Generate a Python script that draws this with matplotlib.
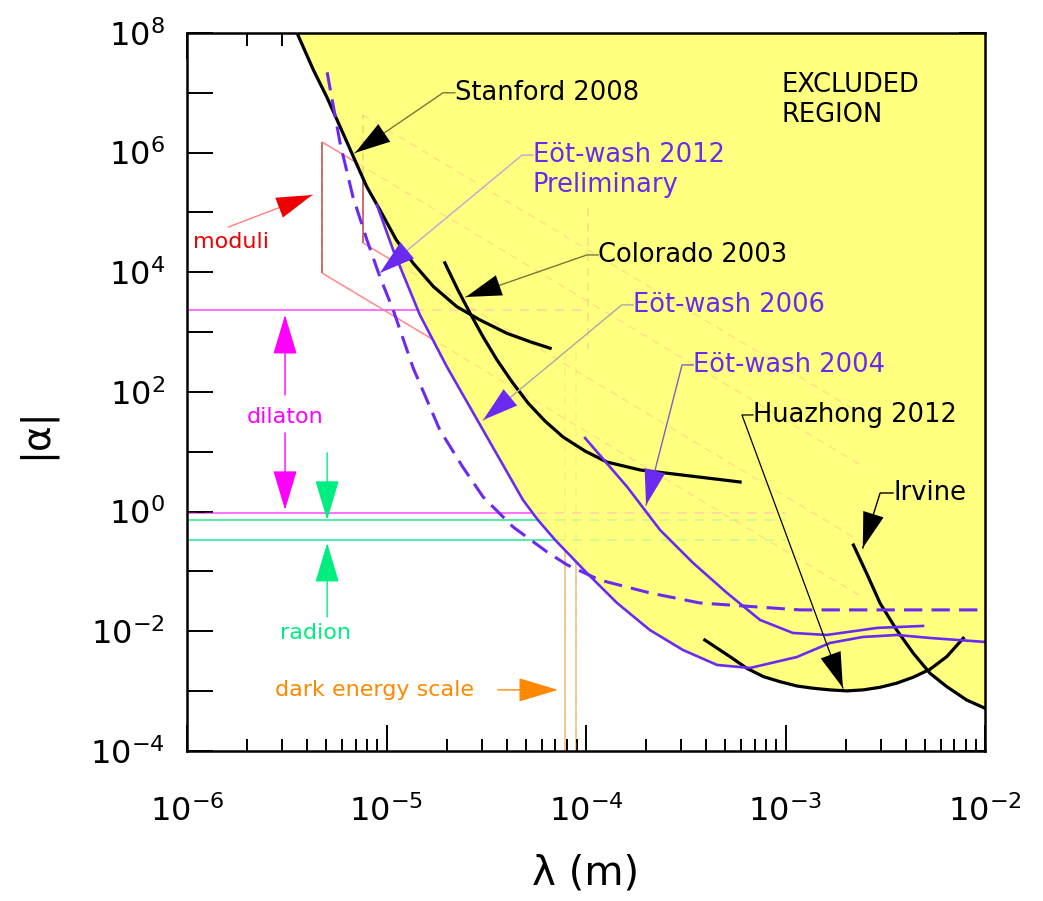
import numpy as np
import matplotlib.pyplot as plt
from matplotlib.ticker import LogLocator, FuncFormatter, NullLocator, NullFormatter

plt.rcParams['mathtext.fontset'] = 'dejavusans'

# limits on a Yukawa-type deviation: range lambda (m) vs strength |alpha|
stanford_lam = [3.56e-6, 4.30e-6, 5.01e-6, 5.85e-6, 6.82e-6, 7.96e-6, 9.27e-6, 1.12e-5,
                1.36e-5, 1.72e-5, 2.25e-5, 2.94e-5, 4.01e-5, 5.24e-5, 6.61e-5]
stanford_alpha = [1e8, 2.41e7, 8.63e6, 2.72e6, 8.57e5, 2.70e5, 1.10e5, 3.47e4,
                  1.42e4, 5.76e3, 2.67e3, 1.60e3, 958, 693, 538]

colorado_lam = [1.96e-5, 2.28e-5, 2.62e-5, 3.05e-5, 3.58e-5, 4.26e-5, 5.12e-5, 6.22e-5,
                7.67e-5, 9.89e-5, 1.27e-4, 1.87e-4, 3.32e-4, 5.92e-4]
colorado_alpha = [1.44e4, 5.07e3, 2.09e3, 832, 343, 147, 65.5, 32.8,
                  17.7, 10.3, 6.76, 4.97, 3.95, 3.13]

ew2006_lam = [8.95e-6, 1.08e-5, 1.47e-5, 2.01e-5, 3.19e-5, 4.83e-5, 5.74e-5, 7.0e-5,
              1.01e-4, 1.43e-4, 2.09e-4, 3.06e-4, 4.54e-4, 6.64e-4, 1.14e-3, 1.67e-3,
              2.44e-3, 3.62e-3, 5.30e-3, 1e-2]
ew2006_alpha = [1.34e5, 2.36e4, 1.94e3, 262, 17.7, 1.57, 0.726, 0.337,
                0.0944, 0.0298, 0.0105, 4.88e-3, 2.74e-3, 2.44e-3, 3.72e-3, 6.38e-3,
                8.04e-3, 8.69e-3, 7.74e-3, 6.64e-3]

ew2012_lam = [5.04e-6, 5.85e-6, 6.79e-6, 7.98e-6, 9.27e-6, 1.08e-5, 1.36e-5, 1.85e-5,
              2.41e-5, 3.05e-5, 4.31e-5, 6.38e-5, 8.04e-5, 1.17e-4, 2.09e-4, 3.72e-4,
              1.18e-3, 1e-2]
ew2012_alpha = [2.2e7, 1.45e6, 1.82e5, 3.47e4, 8.36e3, 2.35e3, 252, 23.2,
                5.58, 1.76, 0.555, 0.212, 0.129, 0.0721, 0.0438, 0.0298,
                0.0228, 0.0228]

ew2004_lam = [9.89e-5, 1.61e-4, 2.35e-4, 3.44e-4, 5.09e-4, 7.45e-4, 1.09e-3, 1.61e-3,
              2.88e-3, 4.89e-3]
ew2004_alpha = [17.0, 2.58, 0.494, 0.139, 0.0438, 0.0155, 9.38e-3, 8.69e-3,
                0.0114, 0.0123]

huazhong_lam = [3.94e-4, 5.27e-4, 6.40e-4, 7.75e-4, 9.38e-4, 1.14e-3, 1.37e-3, 1.67e-3,
                2.03e-3, 2.45e-3, 2.98e-3, 3.61e-3, 4.37e-3, 5.30e-3, 6.43e-3, 7.78e-3]
huazhong_alpha = [7.16e-3, 3.77e-3, 2.41e-3, 1.75e-3, 1.44e-3, 1.22e-3, 1.12e-3, 1.05e-3,
                  1.01e-3, 1.05e-3, 1.16e-3, 1.36e-3, 1.71e-3, 2.32e-3, 3.77e-3, 7.66e-3]

irvine_lam = [2.19e-3, 2.55e-3, 2.98e-3, 3.61e-3, 4.37e-3, 5.30e-3, 6.43e-3, 8.09e-3, 1e-2]
irvine_alpha = [0.277, 0.0933, 0.0294, 0.0105, 4.30e-3, 1.99e-3, 1.19e-3, 7.11e-4, 5.18e-4]

# theoretical expectations
dilaton_alpha = [2.35e3, 0.95]
dilaton_end = [1e-4, 1e-3]
radion_alpha = [0.73, 0.34]
radion_end = [1e-3, 1e-3]
moduli_lam = [4.75e-6, 7.62e-6]
moduli_top = [1.51e6, 4.27e6]
moduli_bottom = [9.75e3, 3.1e4]
moduli_end = 2.5e-3
dark_energy_lam = [7.85e-5, 8.9e-5]

YELLOW = '#ffff80'
PURPLE = '#6b2af0'
OLIVE = '#77773a'

fig = plt.figure(figsize=(10.43, 9.01), dpi=100)
ax = fig.add_axes([0.1793, 0.1665, 0.7651, 0.7969])
ax.set_xscale('log')
ax.set_yscale('log')
ax.set_xlim(1e-6, 1e-2)
ax.set_ylim(1e-4, 1e8)


def theory(x, y, color, lw=1.4):
    # solid where allowed, faint dashed where it runs through the excluded region
    ax.plot(x, y, color=color, lw=lw, zorder=1, solid_capstyle='butt')
    ax.plot(x, y, color=color, lw=lw, ls=(0, (5, 4)), alpha=0.25, zorder=3)


for a, xe in zip(dilaton_alpha, dilaton_end):
    theory([1e-6, xe], [a, a], '#ff70ff')
for a, xe in zip(radion_alpha, radion_end):
    theory([1e-6, xe], [a, a], '#50f0aa')
for lam0, top, bot in zip(moduli_lam, moduli_top, moduli_bottom):
    theory([lam0, lam0], [bot, top], '#c84848', lw=1.1)
    for a0 in (top, bot):
        theory([lam0, moduli_end], [a0, a0 * (lam0 / moduli_end) ** 2], '#ff8c8c', lw=1.1)
for lam0 in dark_energy_lam:
    theory([lam0, lam0], [1e-4, 500], '#f2c27a', lw=1.2)
ax.plot([1.02e-4, 1.02e-4], [1.2e5, 500], color='#f2c27a', lw=1.2,
        ls=(0, (5, 4)), alpha=0.5, zorder=3)

# excluded region above every measured limit
for lam, al in [(stanford_lam, stanford_alpha), (colorado_lam, colorado_alpha),
                (ew2006_lam, ew2006_alpha), (ew2004_lam, ew2004_alpha),
                (huazhong_lam, huazhong_alpha), (irvine_lam, irvine_alpha)]:
    ax.fill_between(lam, al, 1e8, color=YELLOW, lw=0, zorder=2)

for lam, al in [(stanford_lam, stanford_alpha), (colorado_lam, colorado_alpha),
                (huazhong_lam, huazhong_alpha), (irvine_lam, irvine_alpha)]:
    ax.plot(lam, al, color='black', lw=2.3, zorder=4, solid_joinstyle='round')
ax.plot(ew2006_lam, ew2006_alpha, color=PURPLE, lw=1.9, zorder=4, solid_joinstyle='round')
ax.plot(ew2004_lam, ew2004_alpha, color=PURPLE, lw=1.9, zorder=4, solid_joinstyle='round')
ax.plot(ew2012_lam, ew2012_alpha, color=PURPLE, lw=2.2, ls=(0, (6, 3)), zorder=4)

HEAD = '-|>,head_length=1.5,head_width=0.45'


def leader(pts, line_color, head_color, lw=1.0):
    xs = [p[0] for p in pts]
    ys = [p[1] for p in pts]
    ax.plot(xs, ys, color=line_color, lw=lw, zorder=6)
    ax.annotate('', xy=pts[-1], xytext=pts[-2],
                arrowprops=dict(arrowstyle=HEAD, mutation_scale=17, fc=head_color,
                                ec='none', lw=0, shrinkA=0, shrinkB=0), zorder=7)


def label(x, y, s, color, size=18.5):
    ax.text(x, y, s, color=color, fontsize=size, ha='left', va='center', zorder=8)


label(2.2e-5, 1e7, 'Stanford 2008', 'black')
leader([(2.2e-5, 1e7), (1.92e-5, 1e7), (6.95e-6, 9.9e5)], OLIVE, 'black')

label(5.42e-5, 9.1e5, 'Eöt-wash 2012', PURPLE)
label(5.42e-5, 2.9e5, 'Preliminary', PURPLE)
leader([(5.42e-5, 9.1e5), (4.78e-5, 9.1e5), (9.27e-6, 9.75e3)], '#b8a8d8', PURPLE)

label(1.15e-4, 1.95e4, 'Colorado 2003', 'black')
leader([(1.15e-4, 1.95e4), (1.01e-4, 1.95e4), (2.5e-5, 3.87e3)], OLIVE, 'black')

label(1.72e-4, 2.85e3, 'Eöt-wash 2006', PURPLE)
leader([(1.72e-4, 2.85e3), (1.51e-4, 2.85e3), (3.05e-5, 34)], '#a8a8a8', PURPLE)

label(3.44e-4, 283, 'Eöt-wash 2004', PURPLE)
leader([(3.44e-4, 283), (3.03e-4, 283), (2.0e-4, 1.29)], '#8060c0', PURPLE)

label(6.87e-4, 41.3, 'Huazhong 2012', 'black')
leader([(6.87e-4, 41.3), (6.05e-4, 41.3), (1.94e-3, 1.13e-3)], 'black', 'black', lw=0.9)

label(3.46e-3, 2.05, 'Irvine', 'black')
leader([(3.46e-3, 2.05), (2.98e-3, 2.05), (2.44e-3, 0.247)], 'black', 'black')

label(9.6e-4, 1.35e7, 'EXCLUDED', 'black')
label(9.6e-4, 4.27e6, 'REGION', 'black')

# theory annotations
small = 16
ax.text(1.07e-6, 3.2e4, 'moduli', color='#ee0000', fontsize=small, ha='left', va='center', zorder=8)
leader([(1.61e-6, 5.7e4), (4.24e-6, 1.96e5)], '#ff8080', '#ee0000')


def arrow(tail, tip, color):
    ax.annotate('', xy=tip, xytext=tail,
                arrowprops=dict(arrowstyle=HEAD, mutation_scale=17, color=color,
                                lw=1.0, shrinkA=0, shrinkB=0), zorder=7)


ax.text(3.1e-6, 38.2, 'dilaton', color='#ff00ff', fontsize=small, ha='center', va='center', zorder=8)
arrow((3.1e-6, 89), (3.1e-6, 1.94e3), '#ff00ff')
arrow((3.1e-6, 20.7), (3.1e-6, 1.07), '#ff00ff')

ax.text(4.39e-6, 9.4e-3, 'radion', color='#00ee80', fontsize=small, ha='center', va='center', zorder=8)
arrow((5.04e-6, 9.6), (5.04e-6, 0.73), '#00ee80')
arrow((5.04e-6, 0.0174), (5.04e-6, 0.30), '#00ee80')

ax.text(2.76e-6, 1.05e-3, 'dark energy scale', color='#ff8800', fontsize=small,
        ha='left', va='center', zorder=8)
arrow((3.62e-5, 1.05e-3), (7.24e-5, 1.05e-3), '#ff8800')

# axes styling
ax.xaxis.set_major_locator(LogLocator(base=10, numticks=10))
ax.xaxis.set_minor_locator(LogLocator(base=10, subs=np.arange(2, 10), numticks=20))
ax.xaxis.set_minor_formatter(NullFormatter())
ax.xaxis.set_major_formatter(FuncFormatter(lambda v, p: r'$10^{%d}$' % round(np.log10(v))))
ax.yaxis.set_major_locator(LogLocator(base=10, numticks=20))
ax.yaxis.set_minor_locator(NullLocator())
ax.yaxis.set_major_formatter(FuncFormatter(
    lambda v, p: r'$10^{%d}$' % round(np.log10(v)) if round(np.log10(v)) % 2 == 0 else ''))

ax.tick_params(which='both', direction='in', top=True, right=True, width=1.4, labelsize=23)
ax.tick_params(which='major', length=19)
ax.tick_params(which='minor', length=9)
ax.tick_params(axis='x', pad=32)
ax.tick_params(axis='y', pad=16)
for s in ax.spines.values():
    s.set_linewidth(1.8)
    s.set_zorder(10)

fig.text(0.561, 0.030, 'λ (m)', fontsize=29, ha='center', va='center')
fig.text(0.034, 0.519, '|α|', fontsize=28, ha='center', va='center', rotation=90)

fig.savefig('out.png', dpi=100)
